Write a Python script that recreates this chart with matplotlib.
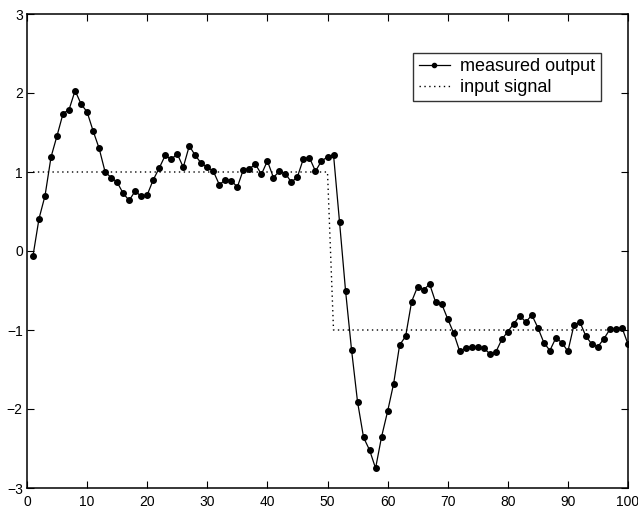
import numpy as np
import matplotlib
matplotlib.use("Agg")
import matplotlib.pyplot as plt

plt.rcParams['font.family'] = ['Liberation Sans', 'DejaVu Sans']

# sample index 1..100
samples = np.arange(1, 101)

measured_output = [
    -0.06, 0.41, 0.70, 1.19, 1.46, 1.74, 1.79, 2.03, 1.86, 1.76,
    1.52, 1.30, 1.00, 0.93, 0.87, 0.73, 0.64, 0.76, 0.69, 0.71,
    0.90, 1.05, 1.21, 1.16, 1.23, 1.06, 1.33, 1.21, 1.11, 1.06,
    1.01, 0.84, 0.90, 0.89, 0.81, 1.03, 1.04, 1.10, 0.97, 1.14,
    0.93, 1.01, 0.98, 0.87, 0.94, 1.17, 1.18, 1.01, 1.14, 1.19,
    1.22, 0.37, -0.50, -1.25, -1.91, -2.36, -2.52, -2.75, -2.35, -2.03,
    -1.68, -1.19, -1.08, -0.64, -0.45, -0.49, -0.42, -0.65, -0.67, -0.86,
    -1.04, -1.27, -1.23, -1.21, -1.22, -1.23, -1.30, -1.28, -1.12, -1.02,
    -0.92, -0.82, -0.90, -0.81, -0.97, -1.16, -1.26, -1.10, -1.16, -1.27,
    -0.94, -0.90, -1.08, -1.18, -1.21, -1.11, -0.99, -0.99, -0.97, -1.18,
]

# step input: +1 up to sample 50, -1 from sample 51
input_signal = [1.0] * 50 + [-1.0] * 50

x_ticks = [0, 10, 20, 30, 40, 50, 60, 70, 80, 90, 100]
y_ticks = [-3, -2, -1, 0, 1, 2, 3]

fig = plt.figure(figsize=(6.38, 5.08), dpi=100)
ax = fig.add_axes([27 / 638, 20 / 508, 601 / 638, 474 / 508])

ax.plot(samples, measured_output, color='black', linewidth=0.9,
        marker='o', markersize=4, label='measured output')
ax.plot(samples, input_signal, color='black', linewidth=1.0,
        linestyle=(0, (1, 2.5)), label='input signal')

ax.set_xlim(0, 100)
ax.set_ylim(-3, 3)
ax.set_xticks(x_ticks)
ax.set_yticks(y_ticks)
ax.tick_params(direction='in', top=True, right=True, length=5,
               width=0.8, labelsize=10)
ax.tick_params(axis='x', pad=5)
ax.tick_params(axis='y', pad=3)
for spine in ax.spines.values():
    spine.set_linewidth(1.1)

leg = ax.legend(loc='upper right', bbox_to_anchor=(0.955, 0.918),
                fontsize=13, frameon=True, fancybox=False,
                handlelength=1.7, handletextpad=0.6, labelspacing=0.2,
                borderpad=0.3, borderaxespad=0)
leg.get_frame().set_edgecolor('black')
leg.get_frame().set_linewidth(1.0)
for h in leg.get_lines():
    h.set_markersize(3)

fig.savefig('out.png', dpi=100)
